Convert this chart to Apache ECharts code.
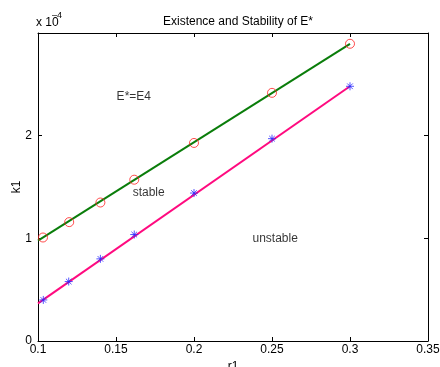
<!DOCTYPE html>
<html>
<head>
<meta charset="utf-8">
<script src="https://cdn.jsdelivr.net/npm/echarts@6/dist/echarts.min.js"></script>
<style>
html,body{margin:0;padding:0;background:#fff;}
#chart{width:440px;height:367px;}
</style>
</head>
<body>
<div id="chart"></div>
<script>
// values in units of 1e-4
var circleX = [0.1032, 0.12, 0.14, 0.1617, 0.2, 0.25, 0.3];
var circleY = [1.008, 1.158, 1.349, 1.571, 1.929, 2.417, 2.895];
var starX = [0.1034, 0.1197, 0.14, 0.1617, 0.2, 0.25, 0.3];
var starY = [0.40, 0.579, 0.80, 1.037, 1.441, 1.971, 2.481];
var lineX = [0.1, 0.3];
var greenLineY = [0.977, 2.895];
var pinkLineY = [0.366, 2.481];
var xTicks = [0.1, 0.15, 0.2, 0.25, 0.3, 0.35];
var yTicks = [0, 1, 2, 3];
var notes = [
  {text: 'E*=E4', x: 0.1504, y: 2.383},
  {text: 'stable', x: 0.1607, y: 1.444},
  {text: 'unstable', x: 0.2375, y: 0.995}
];

function zip(xs, ys) { return xs.map(function (x, i) { return [x, ys[i]]; }); }

var font = 'Liberation Sans, Arial, Helvetica, sans-serif';
var chart = echarts.init(document.getElementById('chart'), null, {renderer: 'canvas'});

var baseX = {
  type: 'value', min: xTicks[0], max: xTicks[xTicks.length - 1], interval: 0.05,
  splitLine: {show: false},
  axisLine: {show: true, onZero: false, lineStyle: {color: '#000', width: 1}},
  axisTick: {show: true, inside: true, length: 4, lineStyle: {color: '#000'}}
};
var baseY = {
  type: 'value', min: yTicks[0], max: yTicks[yTicks.length - 1], interval: 1,
  splitLine: {show: false},
  axisLine: {show: true, onZero: false, lineStyle: {color: '#000', width: 1}},
  axisTick: {show: true, inside: true, length: 4, lineStyle: {color: '#000'}}
};

var starPath = 'path://M5,0L5,10M0,5L10,5M1.5,1.5L8.5,8.5M1.5,8.5L8.5,1.5';

var option = {
  animation: false,
  backgroundColor: '#fff',
  textStyle: {fontFamily: font},
  grid: {left: 38, top: 33, right: 12, bottom: 26, containLabel: false, outerBoundsMode: 'none'},
  title: {
    text: 'Existence and Stability of E*', left: 233, top: 11, textAlign: 'center',
    textStyle: {fontFamily: font, fontSize: 12, fontWeight: 'normal', color: '#000'}
  },
  xAxis: [
    Object.assign({}, baseX, {
      position: 'bottom',
      name: 'r1', nameLocation: 'middle', nameGap: 20, nameMoveOverlap: false,
      nameTextStyle: {fontFamily: font, fontSize: 12, color: '#000'},
      axisLabel: {show: true, fontFamily: font, fontSize: 12, color: '#000', margin: 3,
        formatter: function (v) { return String(+v.toFixed(2)); }}
    }),
    Object.assign({}, baseX, {position: 'top', axisLabel: {show: false}})
  ],
  yAxis: [
    Object.assign({}, baseY, {
      position: 'left',
      name: 'k1', nameLocation: 'middle', nameGap: 15, nameMoveOverlap: false,
      nameTextStyle: {fontFamily: font, fontSize: 12, color: '#000'},
      axisLabel: {show: true, fontFamily: font, fontSize: 12, color: '#000', margin: 6,
        formatter: function (v) { return v >= 3 ? '' : String(v); }}
    }),
    Object.assign({}, baseY, {position: 'right', axisLabel: {show: false}})
  ],
  graphic: [
    {type: 'text', left: 36, top: 17, style: {text: 'x 10', fontSize: 12, fontFamily: font, fill: '#000'}},
    {type: 'text', left: 52, top: 11, style: {text: '\u20134', fontSize: 9, fontFamily: font, fill: '#000'}}
  ],
  series: [
    {
      type: 'line', data: zip(lineX, greenLineY), showSymbol: false,
      lineStyle: {color: '#0a7d0a', width: 2}, z: 2
    },
    {
      type: 'line', data: zip(lineX, pinkLineY), showSymbol: false,
      lineStyle: {color: '#ff0a7f', width: 2}, z: 2
    },
    {
      type: 'scatter', data: zip(circleX, circleY), symbol: 'circle', symbolSize: 9,
      itemStyle: {color: 'rgba(0,0,0,0)', borderColor: '#ff2020', borderWidth: 1}, z: 3
    },
    {
      type: 'scatter', data: zip(starX, starY), symbol: starPath, symbolSize: 8,
      itemStyle: {color: 'rgba(0,0,0,0)', borderColor: '#2a2aff', borderWidth: 1}, z: 3
    },
    {
      type: 'scatter', symbolSize: 0, z: 4,
      data: notes.map(function (n) { return {value: [n.x, n.y], name: n.text}; }),
      label: {show: true, position: 'right', distance: 0, formatter: '{b}',
        fontFamily: font, fontSize: 12, color: '#000'}
    }
  ]
};
chart.setOption(option);
</script>
</body>
</html>
